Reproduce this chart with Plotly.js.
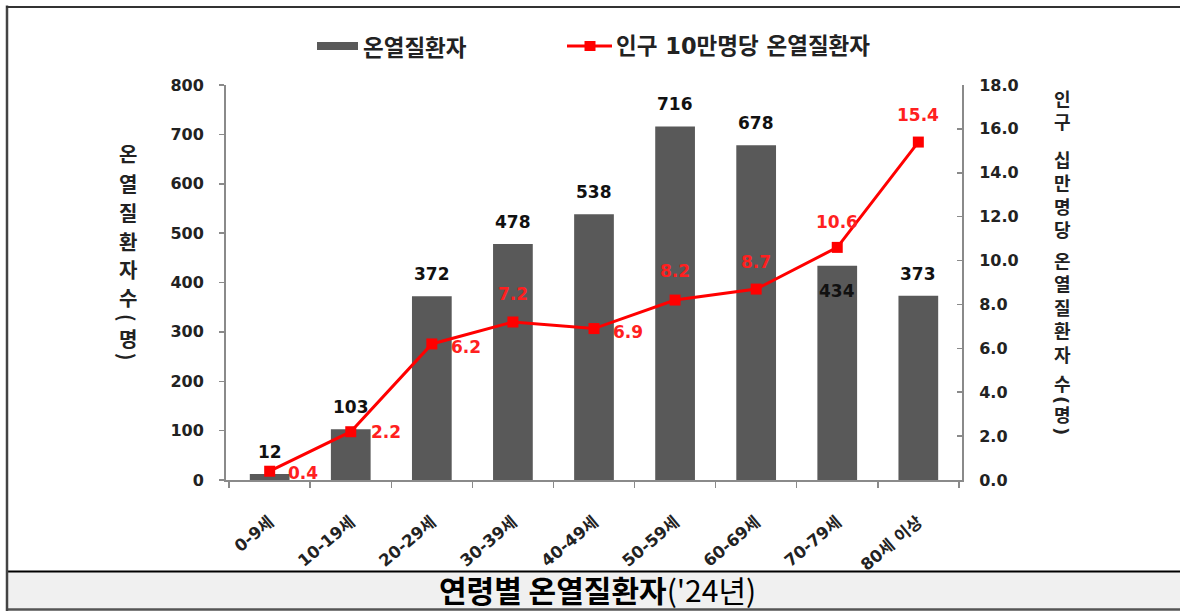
<!DOCTYPE html>
<html>
<head>
<meta charset="utf-8">
<script src="https://cdn.plot.ly/plotly-3.0.1.min.js"></script>
<style>
html,body{margin:0;padding:0;background:#fff;}
#chart{width:1180px;height:611px;}
</style>
</head>
<body>
<div id="chart"></div>
<script>
// ---- data ----
const categories = ["0-9세","10-19세","20-29세","30-39세","40-49세","50-59세","60-69세","70-79세","80세 이상"];
const patients = [12, 103, 372, 478, 538, 716, 678, 434, 373];
const per100k = [0.4, 2.2, 6.2, 7.2, 6.9, 8.2, 8.7, 10.6, 15.4];
const barSeriesName = "온열질환자";
const lineSeriesName = "인구 10만명당 온열질환자";
const leftTitle = "온열질환자수(명)";
const rightTitleWords = ["인구", "십만명당", "온열질환자"];
const rightTitleUnit = "수(명)";
const caption = "연령별 온열질환자";
const captionSuffix = "('24년)";

// ---- styles ----
const NUM = "DejaVu Sans, Noto Sans CJK KR, sans-serif";
const KR = "Noto Sans CJK KR, sans-serif";
const BAR_COLOR = "#595959";
const LINE_COLOR = "#ff0000";
const AXIS_COLOR = "#8a8a8a";

// plot area in pixels
const PL = 226, PR = 962, PT = 85, PB = 480, W = 1180, H = 611;
const px = x => (x - PL) / (PR - PL);
const py = y => (PB - y) / (PB - PT);

// label offsets (style)
const barLabelShift = [22, 22, 22, 22, 22, 22, 22, -25, 22];
const lineLabelShift = [[33,-2],[35,0],[34,-3],[0,28],[34,-3],[0,29],[0,27],[0,25],[0,27]];

const bar = {
  type: "bar", x: categories, y: patients, name: barSeriesName,
  marker: {color: BAR_COLOR}, hoverinfo: "x+y"
};
const line = {
  type: "scatter", mode: "lines+markers", x: categories, y: per100k, yaxis: "y2",
  name: lineSeriesName,
  line: {color: LINE_COLOR, width: 3},
  marker: {symbol: "square", size: 11, color: LINE_COLOR}
};

const annotations = [];
categories.forEach((c, i) => {
  annotations.push({
    x: c, y: patients[i], xref: "x", yref: "y", text: String(patients[i]),
    showarrow: false, yanchor: "middle", yshift: barLabelShift[i],
    font: {family: NUM, size: 17, color: "#111", weight: "bold"}
  });
  annotations.push({
    x: c, y: per100k[i], xref: "x", yref: "y2", text: per100k[i].toFixed(1),
    showarrow: false, yanchor: "middle", xshift: lineLabelShift[i][0], yshift: lineLabelShift[i][1],
    font: {family: NUM, size: 17, color: "#ff2020", weight: "bold"}
  });
});

function vchar(ch, x, y, size, fam) {
  const paren = ch === "(" || ch === ")";
  annotations.push({
    xref: "paper", yref: "paper", x: px(x), y: py(y), text: ch, showarrow: false,
    xanchor: "center", yanchor: "middle", textangle: paren ? 90 : 0,
    font: {family: fam || KR, size: size, color: "#222", weight: "bold"}
  });
}

// left vertical title (one character per line)
const leftY = [153, 183, 212, 241, 269, 297, 318, 338, 357];
Array.from(leftTitle).forEach((ch, i) => vchar(ch, 128, leftY[i], 20));

// right vertical title: word groups stacked
const RT_FAMILY = NUM;
const rightGroupY = [111, 195, 308];
rightTitleWords.forEach((w, i) => {
  annotations.push({
    xref: "paper", yref: "paper", x: px(1062), y: py(rightGroupY[i]),
    text: Array.from(w).join("<br>"), showarrow: false,
    xanchor: "center", yanchor: "middle",
    font: {family: RT_FAMILY, size: 18, color: "#222", weight: "bold"}
  });
});
const unitY = [384, 400, 415, 431];
Array.from(rightTitleUnit).forEach((ch, i) => vchar(ch, 1062, unitY[i], 18, RT_FAMILY));

// custom legend
annotations.push({
  xref: "paper", yref: "paper", x: px(361), y: py(46), text: barSeriesName, showarrow: false,
  xanchor: "left", yanchor: "middle", font: {family: KR, size: 22.5, color: "#222", weight: "bold"}
});
annotations.push({
  xref: "paper", yref: "paper", x: px(614), y: py(46), text: lineSeriesName, showarrow: false,
  xanchor: "left", yanchor: "middle", font: {family: NUM, size: 22.5, color: "#222", weight: "bold"}
});

// caption
annotations.push({
  xref: "paper", yref: "paper", x: px(597), y: py(589), showarrow: false,
  text: "<b>" + caption + "</b>" + captionSuffix,
  xanchor: "center", yanchor: "middle",
  font: {family: KR, size: 30, color: "#000"}
});

const shapes = [
  // caption band
  {type: "rect", xref: "paper", yref: "paper", x0: px(8), x1: px(W + 5), y0: py(572), y1: py(609),
   fillcolor: "#f0f0f0", line: {width: 0}, layer: "below"},
  {type: "line", xref: "paper", yref: "paper", x0: px(8), x1: px(W + 5), y0: py(571.5), y1: py(571.5),
   line: {color: "#000", width: 1.8}},
  {type: "line", xref: "paper", yref: "paper", x0: px(6), x1: px(W + 5), y0: py(609.5), y1: py(609.5),
   line: {color: "#555", width: 2.5}},
  // frame
  {type: "line", xref: "paper", yref: "paper", x0: px(7), x1: px(7), y0: py(5.5), y1: py(611),
   line: {color: "#444", width: 2.5}},
  {type: "line", xref: "paper", yref: "paper", x0: px(6), x1: px(W + 5), y0: py(7), y1: py(7),
   line: {color: "#333", width: 2}},
  // legend symbols
  {type: "rect", xref: "paper", yref: "paper", x0: px(317), x1: px(358), y0: py(50), y1: py(42),
   fillcolor: BAR_COLOR, line: {width: 0}},
  {type: "line", xref: "paper", yref: "paper", x0: px(567), x1: px(612), y0: py(46), y1: py(46),
   line: {color: LINE_COLOR, width: 3}},
  {type: "rect", xref: "paper", yref: "paper", x0: px(584.5), x1: px(595.5), y0: py(51), y1: py(41),
   fillcolor: LINE_COLOR, line: {width: 0}}
];

const tickFont = {family: NUM, size: 16, color: "#222", weight: "bold"};

const layout = {
  width: W, height: H,
  margin: {l: PL, r: W - PR, t: PT, b: H - PB, pad: 0},
  paper_bgcolor: "#fff", plot_bgcolor: "#fff",
  showlegend: false,
  bargap: 0.51,
  xaxis: {
    type: "category", tickson: "boundaries", ticks: "outside", ticklen: 6, tickwidth: 1.5,
    tickcolor: AXIS_COLOR, showline: true, linecolor: AXIS_COLOR, linewidth: 2,
    showgrid: false, zeroline: false, tickangle: -40, ticklabelstandoff: 24,
    tickfont: {family: NUM, size: 16.5, color: "#222", weight: "bold"}
  },
  yaxis: {
    range: [0, 800], dtick: 100, ticks: "outside", ticklen: 5, tickwidth: 1.5,
    tickcolor: AXIS_COLOR, showline: true, linecolor: AXIS_COLOR, linewidth: 2,
    showgrid: false, zeroline: false, tickfont: tickFont, ticklabelstandoff: 12
  },
  yaxis2: {
    range: [0, 18], dtick: 2, tickformat: ".1f", overlaying: "y", side: "right",
    ticks: "inside", ticklen: 5, tickwidth: 1.5,
    tickcolor: AXIS_COLOR, showline: true, linecolor: AXIS_COLOR, linewidth: 2,
    showgrid: false, zeroline: false, tickfont: tickFont, ticklabelstandoff: 12
  },
  annotations: annotations,
  shapes: shapes
};

Plotly.newPlot("chart", [bar, line], layout, {displayModeBar: false, staticPlot: true});
</script>
</body>
</html>
